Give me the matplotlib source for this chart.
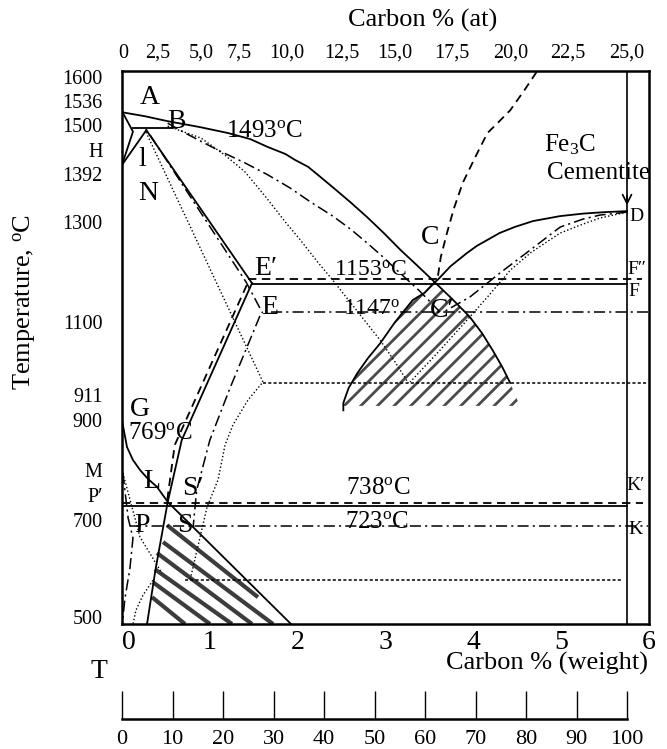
import numpy as np
import matplotlib.pyplot as plt
from matplotlib.patches import Polygon

plt.rcParams['font.family'] = ['Liberation Serif', 'DejaVu Serif']
plt.rcParams['mathtext.fontset'] = 'custom'
plt.rcParams['mathtext.rm'] = 'Liberation Serif'
plt.rcParams['mathtext.it'] = 'Liberation Serif:italic'
plt.rcParams['mathtext.bf'] = 'Liberation Serif:bold'
plt.rcParams['lines.scale_dashes'] = False
plt.rcParams['hatch.linewidth'] = 2.0

# ---------------- axis ticks ----------------
wt_ticks = [0, 1, 2, 3, 4, 5, 6]
at_labels = ['0', '2,5', '5,0', '7,5', '10,0', '12,5', '15,0', '17,5', '20,0', '22,5', '25,0']
at_pos = [0.01, 0.41, 0.90, 1.33, 1.88, 2.50, 3.10, 3.76, 4.42, 5.08, 5.75]
t_labels = ['1600', '1536', '1500', 'H', '1392', '1300', '1100', '911', '900', 'M', 'P\u2032', '700', '500']
t_pos = [1592, 1544, 1495, 1445, 1397, 1300, 1099, 952, 902, 801, 750, 700, 505]
ruler_ticks = [0, 10, 20, 30, 40, 50, 60, 70, 80, 90, 100]

# ---------------- solid system (Fe - Fe3C) ----------------
liq_w = [0.0, 0.26, 0.52, 0.89, 1.21, 1.46, 1.66, 1.86, 1.97, 2.12, 2.23, 2.40, 2.60, 2.79,
         2.98, 3.17, 3.37, 3.56, 3.76, 3.96, 4.10, 4.22, 4.33, 4.42]
liq_t = [1521, 1513, 1503, 1491, 1479, 1467, 1451, 1437, 1425, 1411, 1395, 1370, 1340, 1310,
         1278, 1244, 1211, 1179, 1145, 1109, 1076, 1042, 1008, 976]
cd_w = [5.75, 5.50, 5.25, 4.99, 4.68, 4.47, 4.30, 4.16, 4.04, 3.93, 3.74, 3.59, 3.56,
        3.44, 3.31, 3.11, 2.94, 2.80, 2.68, 2.58, 2.52, 2.52]
cd_t = [1322, 1320, 1317, 1312, 1302, 1290, 1278, 1264, 1252, 1238, 1211, 1183, 1179,
        1157, 1143, 1099, 1056, 1026, 996, 966, 936, 921]
delta_w = [0.0, 0.125, 0.0]
delta_t = [1523, 1482, 1415]
jn_w = [0.277, 0.0]
jn_t = [1485, 1415]
hjb_w = [0.125, 0.58]
hjb_t = [1490, 1490]
je_w = [0.277, 1.48]
je_t = [1485, 1177]
es_w = [1.48, 0.68, 0.52, 0.38, 0.285]
es_t = [1177, 861, 736, 599, 491]
gs_w = [0.0, 0.057, 0.125, 0.205, 0.296, 0.398, 0.524, 1.924]
gs_t = [901, 847, 821, 801, 783, 767, 736, 491]
ecf_w = [1.48, 5.75]
ecf_t = [1175, 1175]
psk_w = [0.0, 5.75]
psk_t = [728, 728]
cem_w = [5.75, 5.75]
cem_t = [491, 1604]

# ---------------- dashed system (Fe - graphite) ----------------
gr_liq_w = [4.72, 4.58, 4.42, 4.28, 4.16, 4.02, 3.88, 3.78, 3.70, 3.63, 3.59]
gr_liq_t = [1602, 1565, 1525, 1500, 1479, 1430, 1379, 1328, 1278, 1230, 1183]
gr_es_w = [1.42, 0.60, 0.51]
gr_es_t = [1173, 851, 734]
gr_ecf_w = [1.43, 5.92]
gr_ecf_t = [1185, 1185]
gr_psk_w = [0.0, 5.93]
gr_psk_t = [734, 734]

# ---------------- dash-dot system ----------------
dd_liq_w = [0.52, 0.72, 1.09, 1.40, 1.66, 1.91, 2.15, 2.40, 2.60, 2.79, 2.97, 3.13, 3.39, 3.62]
dd_liq_t = [1499, 1479, 1445, 1419, 1395, 1369, 1340, 1312, 1286, 1258, 1230, 1203, 1161, 1119]
dd_cd_w = [5.75, 5.44, 5.25, 4.99, 4.65, 4.30, 3.96, 3.68]
dd_cd_t = [1320, 1314, 1306, 1290, 1244, 1197, 1149, 1121]
dd_je_w = [0.32, 1.41, 1.60]
dd_je_t = [1475, 1180, 1117]
dd_es_w = [1.57, 1.23, 1.00, 0.85, 0.81]
dd_es_t = [1111, 966, 861, 760, 686]
dd_ecf_w = [1.70, 5.99]
dd_ecf_t = [1119, 1119]
dd_psk_w = [0.09, 5.99]
dd_psk_t = [688, 688]
dd_left_w = [0.01, 0.07, 0.125, 0.09, 0.034, 0.01]
dd_left_t = [795, 704, 664, 603, 543, 503]

# ---------------- dotted system ----------------
dt_liq_w = [0.52, 0.90, 1.17, 1.40, 1.63, 1.86, 2.03, 2.23, 2.40, 2.65, 2.94, 3.11, 3.26]
dt_liq_t = [1493, 1469, 1435, 1401, 1352, 1300, 1264, 1219, 1183, 1127, 1062, 1018, 976]
dt_cd_w = [5.75, 5.44, 5.22, 4.99, 4.65, 4.42, 4.16, 3.96, 3.62, 3.28]
dt_cd_t = [1320, 1308, 1294, 1278, 1238, 1203, 1149, 1109, 1042, 978]
dt_jes_w = [0.273, 1.605, 1.435, 1.264, 1.173, 1.093, 0.968, 0.774]
dt_jes_t = [1481, 978, 942, 892, 851, 781, 726, 579]
dt_ecf_w = [1.605, 5.99]
dt_ecf_t = [976, 976]
dt_psk_w = [0.717, 5.70]
dt_psk_t = [579, 579]
dt_mp_w = [0.01, 0.205, 0.455]
dt_mp_t = [795, 666, 593]
dt_arc_w = [0.353, 0.239, 0.159, 0.125]
dt_arc_t = [579, 549, 519, 491]

# quasi-eutectic zone bottom and quasi-eutectoid bars
qe_bottom_w = [2.52, 4.53]
qe_bottom_t = [930, 930]
bar_w0 = [0.512, 0.467, 0.398, 0.376, 0.353, 0.342]
bar_t0 = [690, 656, 634, 601, 575, 545]
bar_w1 = [1.548, 1.719, 1.480, 1.252, 1.002, 0.717]
bar_t1 = [545, 491, 491, 491, 491, 491]

SOLID = dict(color='k', lw=1.3, ls='-')
DASH = dict(color='k', lw=1.3, ls=(0, (6, 4)))
DASHDOT = dict(color='k', lw=1.1, ls=(0, (8, 3, 1.5, 3)))
DOT = dict(color='k', lw=1.0, ls=(0, (1, 1.6)))
DOTH = dict(color='k', lw=1.1, ls=(0, (2.2, 1.6)))

W, H = 667, 749
fig = plt.figure(figsize=(W / 100, H / 100), dpi=100)
ax = fig.add_axes([122 / W, 1 - 624 / H, 527 / W, 553 / H])
ax.set_xlim(0, 6)
ax.set_ylim(491, 1604)

# hatched quasi-eutectic zone below C
left_edge = [(w, t) for w, t in zip(cd_w, cd_t) if t <= 1179 and t > 930]
right_edge = [(w, t) for w, t in zip(liq_w, liq_t) if t <= 1179]
verts = left_edge + list(zip(qe_bottom_w, qe_bottom_t)) + right_edge[::-1]
ax.add_patch(Polygon(verts, closed=True, facecolor='none', edgecolor='#4a4a4a',
                     lw=0, hatch='//'))

for w0, t0, w1, t1 in zip(bar_w0, bar_t0, bar_w1, bar_t1):
    ax.plot([w0, w1], [t0, t1], color='#3c3c3c', lw=3.0, solid_capstyle='butt')

for w, t in [(liq_w, liq_t), (cd_w, cd_t), (delta_w, delta_t), (jn_w, jn_t), (hjb_w, hjb_t),
             (je_w, je_t), (es_w, es_t), (gs_w, gs_t), (ecf_w, ecf_t), (psk_w, psk_t)]:
    ax.plot(w, t, **SOLID)
ax.plot(cem_w, cem_t, color='k', lw=1.2)

for w, t in [(gr_liq_w, gr_liq_t), (gr_es_w, gr_es_t), (gr_ecf_w, gr_ecf_t), (gr_psk_w, gr_psk_t)]:
    ax.plot(w, t, **DASH)

for w, t in [(dd_liq_w, dd_liq_t), (dd_cd_w, dd_cd_t), (dd_je_w, dd_je_t), (dd_es_w, dd_es_t),
             (dd_ecf_w, dd_ecf_t), (dd_psk_w, dd_psk_t), (dd_left_w, dd_left_t)]:
    ax.plot(w, t, **DASHDOT)

for w, t in [(dt_liq_w, dt_liq_t), (dt_cd_w, dt_cd_t), (dt_jes_w, dt_jes_t),
             (dt_mp_w, dt_mp_t), (dt_arc_w, dt_arc_t)]:
    ax.plot(w, t, **DOT)
for w, t in [(dt_ecf_w, dt_ecf_t), (dt_psk_w, dt_psk_t)]:
    ax.plot(w, t, **DOTH)

ax.annotate('', xy=(5.75, 1328), xytext=(5.75, 1358),
            arrowprops=dict(arrowstyle='->', lw=1.2, color='k', mutation_scale=16))

for s in ax.spines.values():
    s.set_linewidth(1.8)
ax.set_xticks(wt_ticks, [str(v) for v in wt_ticks])
ax.set_yticks(t_pos, t_labels)
ax.tick_params(axis='x', length=0, labelsize=20, pad=4)
ax.tick_params(axis='y', length=0, labelsize=14.5, pad=14)
ax.get_xticklabels()[0].set_horizontalalignment('left')

axt = ax.twiny()
axt.set_xlim(0, 6)
axt.set_xticks(at_pos, at_labels)
axt.tick_params(axis='x', length=0, labelsize=14.5, pad=6)
for s in axt.spines.values():
    s.set_visible(False)


def lab(x, y, s, size=20):
    fig.text(x / W, 1 - y / H, s, fontsize=size, ha='center', va='center')


deg = r'$^{\rm o}$'
lab(150, 97, 'A')
lab(176, 121, 'B')
lab(264, 131, '1493' + deg + 'C', 18)
lab(142, 159, 'l')
lab(148, 194, 'N')
lab(430, 238, 'C')
lab(266, 268, 'E\u2032')
lab(370, 270, '1153' + deg + 'C', 17)
lab(270, 307, 'E')
lab(372, 309, '1147' + deg, 17)
lab(442, 310, 'C\u2032')
lab(637, 269, 'F\u2033', 14)
lab(634, 292, 'F', 14)
lab(636, 217, 'D', 14)
lab(570, 145, 'Fe$_3$C', 18)
lab(599, 173, 'Cementite', 18)
lab(140, 409, 'G')
lab(160, 433, '769' + deg + 'C', 18)
lab(152, 481, 'L')
lab(193, 488, 'S\u2032')
lab(142, 526, 'P')
lab(185, 525, 'S')
lab(378, 488, '738' + deg + 'C', 18)
lab(377, 522, '723' + deg + 'C', 18)
lab(636, 486, 'K\u2032', 14)
lab(635, 529, 'K', 14)
lab(99, 672, 'T')
lab(547, 663, 'Carbon % (weight)', 19)
lab(423, 20, 'Carbon % (at)', 19)
fig.text(25 / W, 1 - 302 / H, 'Temperature, ' + deg + 'C', fontsize=19,
         ha='center', va='center', rotation=90)

# percentage ruler at the bottom
axr = fig.add_axes([122 / W, 1 - 719 / H, 505 / W, 28 / H])
axr.set_xlim(0, 100)
axr.set_ylim(0, 1)
axr.set_yticks([])
axr.set_xticks(ruler_ticks, [str(v) for v in ruler_ticks])
axr.tick_params(axis='x', direction='in', length=20, width=1.0, labelsize=16, pad=8)
for k in ['top', 'left', 'right']:
    axr.spines[k].set_visible(False)
axr.spines['bottom'].set_linewidth(1.8)
axr.patch.set_visible(False)

fig.savefig('out.png', dpi=100)
